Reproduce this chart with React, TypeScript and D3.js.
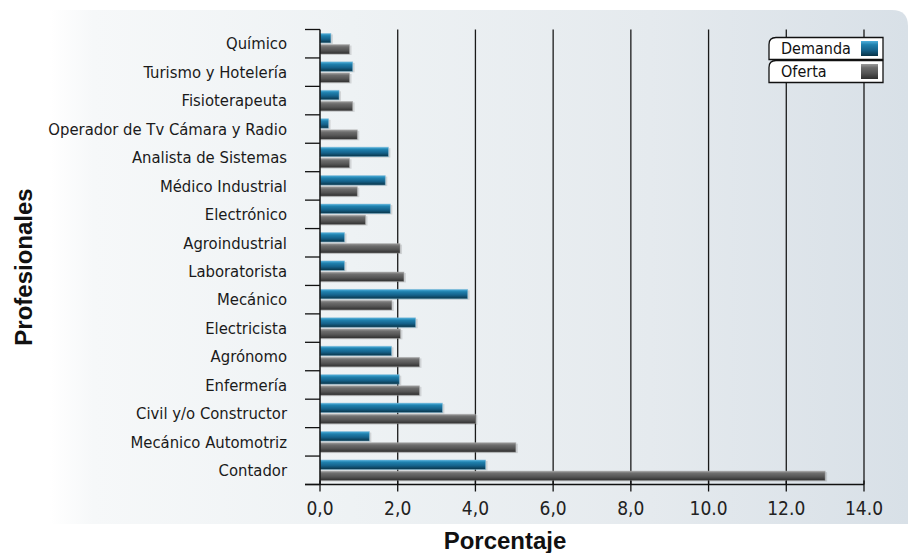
import React from 'react';
import * as d3 from 'd3';

// values (percent)
const categories = [
  'Químico',
  'Turismo y Hotelería',
  'Fisioterapeuta',
  'Operador de Tv Cámara y Radio',
  'Analista de Sistemas',
  'Médico Industrial',
  'Electrónico',
  'Agroindustrial',
  'Laboratorista',
  'Mecánico',
  'Electricista',
  'Agrónomo',
  'Enfermería',
  'Civil y/o Constructor',
  'Mecánico Automotriz',
  'Contador',
];
const demanda = [0.28, 0.84, 0.49, 0.22, 1.76, 1.68, 1.81, 0.63, 0.63, 3.8, 2.46, 1.84, 2.04, 3.15, 1.27, 4.26];
const oferta = [0.76, 0.76, 0.84, 0.96, 0.76, 0.96, 1.17, 2.06, 2.16, 1.85, 2.07, 2.56, 2.56, 4.0, 5.04, 13.0];
const seriesNames = ['Demanda', 'Oferta'];
const xTicks = [0, 2, 4, 6, 8, 10, 12, 14];
const xTickLabels = ['0,0', '2,0', '4,0', '6,0', '8,0', '10.0', '12.0', '14.0'];

const W = 908;
const H = 553;
const left = 320;
const right = 864;
const top = 29.5;
const bottom = 484.5;

const condensed: React.CSSProperties = {
  fontFamily: "'DejaVu Sans Condensed', 'DejaVu Sans', sans-serif",
  fontStretch: 'condensed',
};
const boldFont = "'Liberation Sans', Arial, sans-serif";

export default function App() {
  const x = d3.scaleLinear().domain([0, 14]).range([left, right]);
  const y = d3.scaleBand<string>().domain(categories).range([top, bottom]).paddingInner(0.276).paddingOuter(0.138);
  const ySub = d3.scaleBand<string>().domain(seriesNames).range([0, y.bandwidth()]).paddingInner(0.15);
  const step = y.step();
  const bounds = d3.range(categories.length + 1).map((i) => top + i * step);

  const rows = categories.map((c, i) => ({ c, d: demanda[i], o: oferta[i] }));

  const panel = `M50,10 H892 Q908,10 908,26 V524 H50 Z`;
  const tab = (x0: number, y0: number, w: number, h: number, r: number) =>
    `M${x0},${y0 + h} V${y0 + r} Q${x0},${y0} ${x0 + r},${y0} H${x0 + w} V${y0 + h} Z`;

  return (
    <>
      <style>{`body{margin:0}`}</style>
      <svg width={W} height={H} style={{ display: 'block', background: '#fff' }}>
        <defs>
          <linearGradient id="bg" x1="0" x2="1" y1="0" y2="0">
            <stop offset="0" stopColor="#ffffff" />
            <stop offset="0.05" stopColor="#f6f8f9" />
            <stop offset="0.35" stopColor="#eef2f4" />
            <stop offset="0.7" stopColor="#e5eaee" />
            <stop offset="1" stopColor="#d8e0e7" />
          </linearGradient>
          <linearGradient id="blue" x1="0" x2="0" y1="0" y2="1">
            <stop offset="0" stopColor="#4fb0dc" />
            <stop offset="0.25" stopColor="#1f80ad" />
            <stop offset="0.6" stopColor="#15628b" />
            <stop offset="1" stopColor="#093346" />
          </linearGradient>
          <linearGradient id="gray" x1="0" x2="0" y1="0" y2="1">
            <stop offset="0" stopColor="#9a9a9a" />
            <stop offset="0.25" stopColor="#6c6c6c" />
            <stop offset="0.6" stopColor="#555555" />
            <stop offset="1" stopColor="#2e2e2e" />
          </linearGradient>
        </defs>

        <path d={panel} fill="url(#bg)" />

        {/* grid */}
        {xTicks.slice(1).map((t) => (
          <line key={t} x1={x(t)} x2={x(t)} y1={top} y2={bottom} stroke="#1a1a1a" strokeWidth={1.3} />
        ))}

        {/* bars */}
        {rows.map((r) => {
          const y0 = y(r.c)!;
          const bh = ySub.bandwidth();
          return (
            <g key={r.c}>
              {[
                { v: r.d, s: 'Demanda', fill: 'url(#blue)', edge: '#7fb8d4' },
                { v: r.o, s: 'Oferta', fill: 'url(#gray)', edge: '#a8a8a8' },
              ].map((b) => {
                const by = y0 + ySub(b.s)!;
                const bw = x(b.v) - x(0);
                return (
                  <g key={b.s}>
                    <rect x={x(0) + 1} y={by + 1} width={bw + 1} height={bh} fill="#000" opacity={0.12} />
                    <rect x={x(0)} y={by} width={bw} height={bh} fill={b.fill} stroke={b.edge} strokeOpacity={0.6} strokeWidth={0.8} />
                  </g>
                );
              })}
            </g>
          );
        })}

        {/* y axis */}
        <line x1={left} x2={left} y1={top} y2={bottom} stroke="#111" strokeWidth={1.5} />
        {bounds.map((b, i) => (
          <line key={i} x1={305} x2={left} y1={b} y2={b} stroke="#111" strokeWidth={1.3} />
        ))}
        {categories.map((c) => (
          <text
            key={c}
            x={287}
            y={y(c)! + y.bandwidth() / 2}
            dy="0.35em"
            textAnchor="end"
            fontSize={16.5}
            fill="#1a1a1a"
            style={condensed}
          >
            {c}
          </text>
        ))}

        {/* x axis */}
        <line x1={305} x2={right} y1={bottom} y2={bottom} stroke="#111" strokeWidth={1.5} />
        {xTicks.map((t, i) => (
          <g key={t}>
            <line x1={x(t)} x2={x(t)} y1={bottom - 4} y2={bottom + 7} stroke="#111" strokeWidth={1.3} />
            <text x={x(t)} y={515} textAnchor="middle" fontSize={19} fill="#222" style={condensed}>
              {xTickLabels[i]}
            </text>
          </g>
        ))}

        {/* legend */}
        {seriesNames.map((s, i) => {
          const ly = 37.5 + i * 23;
          return (
            <g key={s}>
              <path d={tab(769, ly, 114, 22, 7)} fill="#fff" stroke="#111" strokeWidth={1.3} />
              <text x={781} y={ly + 16.5} fontSize={16} fill="#111" style={condensed}>
                {s}
              </text>
              <rect x={861} y={ly + 3.5} width={17} height={15} fill={i === 0 ? 'url(#blue)' : 'url(#gray)'} />
            </g>
          );
        })}

        {/* titles */}
        <text x={505} y={549} textAnchor="middle" fontSize={24} fontWeight="bold" fontFamily={boldFont} fill="#111">
          Porcentaje
        </text>
        <text
          transform={`translate(32,267) rotate(-90)`}
          textAnchor="middle"
          fontSize={24}
          fontWeight="bold"
          fontFamily={boldFont}
          fill="#111"
        >
          Profesionales
        </text>
      </svg>
    </>
  );
}
